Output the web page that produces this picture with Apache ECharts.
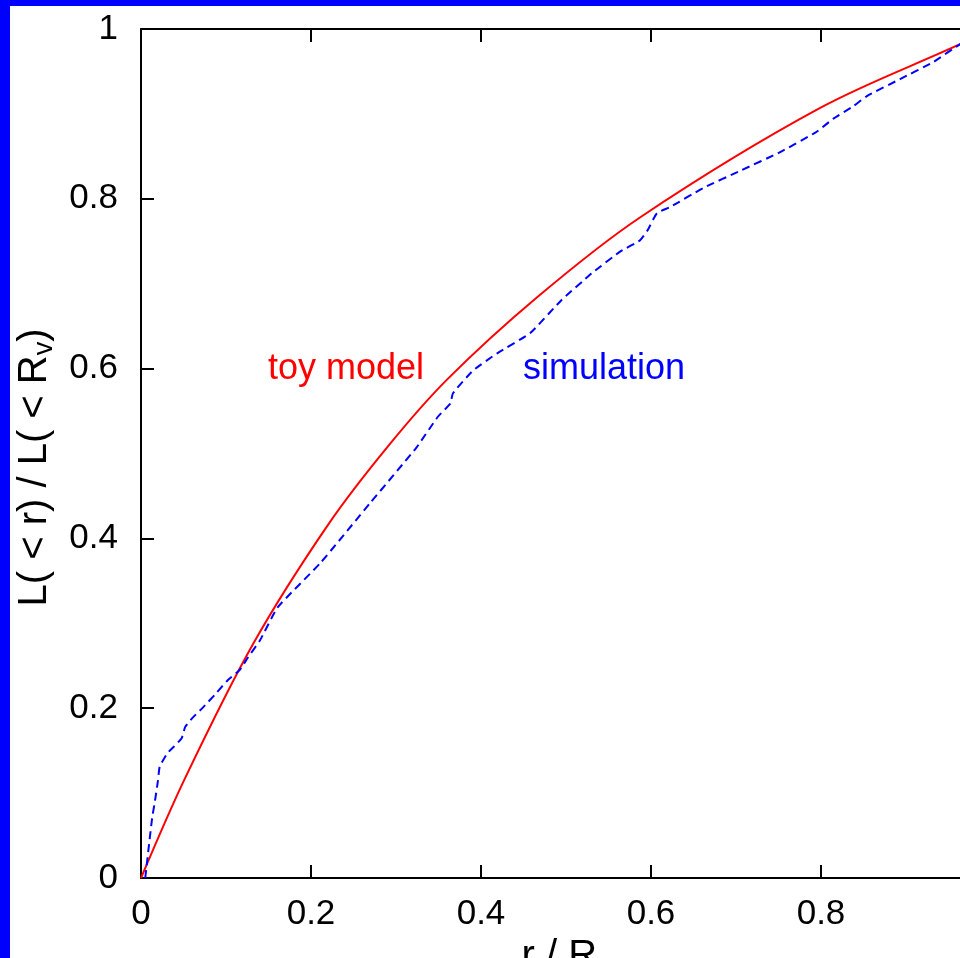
<!DOCTYPE html>
<html>
<head>
<meta charset="utf-8">
<script src="https://cdn.jsdelivr.net/npm/echarts@6/dist/echarts.min.js"></script>
<style>
  html, body { margin: 0; padding: 0; background: #0000ff; width: 960px; height: 958px; overflow: hidden; }
  #chart { position: absolute; left: 10px; top: 6px; width: 950px; height: 952px; background: #ffffff; }
</style>
</head>
<body>
<div id="chart"></div>
<script>
// Toy model curve (r/Rv, L(<r)/L(<Rv))
const toyX = [0, 0.052, 0.132, 0.220, 0.291, 0.360, 0.466, 0.587, 0.799, 0.9635, 1.0];
const toyY = [0, 0.118, 0.276, 0.416, 0.509, 0.587, 0.684, 0.778, 0.907, 0.982, 1.0];

// Simulation curve
const simX = [0.005, 0.013, 0.016, 0.020, 0.022, 0.031, 0.038, 0.048, 0.052, 0.060, 0.073, 0.087, 0.102, 0.116, 0.126, 0.140, 0.161, 0.211, 0.269, 0.324, 0.349, 0.364, 0.367, 0.391, 0.419, 0.458, 0.494, 0.530, 0.564, 0.587, 0.596, 0.607, 0.622, 0.662, 0.705, 0.752, 0.795, 0.814, 0.838, 0.854, 0.893, 0.932, 0.9635, 1.0];
const simY = [0, 0.070, 0.088, 0.115, 0.131, 0.147, 0.154, 0.165, 0.178, 0.188, 0.201, 0.216, 0.233, 0.245, 0.260, 0.280, 0.319, 0.371, 0.441, 0.507, 0.543, 0.559, 0.571, 0.598, 0.618, 0.642, 0.680, 0.712, 0.738, 0.751, 0.763, 0.783, 0.790, 0.813, 0.833, 0.855, 0.879, 0.894, 0.909, 0.921, 0.941, 0.961, 0.982, 1.0];

const seriesNames = ['toy model', 'simulation'];
const xTitle = ['r / R', 'v'];
const yTitle = ['L( < r) / L( < R', 'v', ')'];

const FONT = 'Liberation Sans, Arial, Helvetica, sans-serif';
const chart = echarts.init(document.getElementById('chart'), null, { renderer: 'canvas' });

const axisLine = { show: true, onZero: false, lineStyle: { color: '#000', width: 2 } };
const axisTick = { show: true, inside: true, length: 13, lineStyle: { color: '#000', width: 2 } };
const labelStyle = { color: '#000', fontSize: 35, fontFamily: FONT };
const richTitle = {
  a: { fontSize: 40, fontFamily: FONT, color: '#000' },
  s: { fontSize: 27, fontFamily: FONT, color: '#000', padding: [20, 0, 0, 0] }
};

const option = {
  animation: false,
  backgroundColor: '#ffffff',
  grid: { left: 131, top: 23, width: 850, height: 849, containLabel: false, outerBoundsMode: 'none' },
  xAxis: [
    {
      type: 'value', min: 0, max: 1, interval: 0.2, position: 'bottom',
      axisLine, axisTick, splitLine: { show: false },
      axisLabel: Object.assign({ margin: 19 }, labelStyle),
      name: '{a|' + xTitle[0] + '}{s|' + xTitle[1] + '}',
      nameLocation: 'middle', nameGap: 55,
      nameTextStyle: { rich: richTitle }
    },
    {
      type: 'value', min: 0, max: 1, interval: 0.2, position: 'top',
      axisLine, axisTick, splitLine: { show: false },
      axisLabel: { show: false }
    }
  ],
  yAxis: [
    {
      type: 'value', min: 0, max: 1, interval: 0.2, position: 'left',
      axisLine, axisTick, splitLine: { show: false },
      axisLabel: Object.assign({ margin: 23 }, labelStyle),
      name: '{a|' + yTitle[0] + '}{s|' + yTitle[1] + '}{a|' + yTitle[2] + '}',
      nameLocation: 'middle', nameGap: 81,
      nameTextStyle: { rich: richTitle, padding: [0, 28, 0, 0] }
    },
    {
      type: 'value', min: 0, max: 1, interval: 0.2, position: 'right',
      axisLine, axisTick, splitLine: { show: false },
      axisLabel: { show: false }
    }
  ],
  series: [
    {
      name: seriesNames[0], type: 'line', xAxisIndex: 0, yAxisIndex: 0,
      data: toyX.map((x, i) => [x, toyY[i]]),
      showSymbol: false, symbol: 'none', smooth: 0.33,
      lineStyle: { color: '#ff0000', width: 2 }
    },
    {
      name: seriesNames[1], type: 'line', xAxisIndex: 0, yAxisIndex: 0,
      data: simX.map((x, i) => [x, simY[i]]),
      showSymbol: false, symbol: 'none', smooth: 0.15,
      lineStyle: { color: '#0000ff', width: 2, type: [8, 5] }
    }
  ]
};
chart.setOption(option);

// Annotations placed in data coordinates
const toyPos = chart.convertToPixel({ gridIndex: 0 }, [0.1494, 0.6]);
const simPos = chart.convertToPixel({ gridIndex: 0 }, [0.4494, 0.6]);
chart.setOption({
  graphic: [
    { type: 'text', x: toyPos[0], y: toyPos[1], style: { text: seriesNames[0], fill: '#ff0000', fontSize: 36, fontFamily: FONT, align: 'left', verticalAlign: 'middle' } },
    { type: 'text', x: simPos[0], y: simPos[1], style: { text: seriesNames[1], fill: '#0000ff', fontSize: 36, fontFamily: FONT, align: 'left', verticalAlign: 'middle' } }
  ]
});
</script>
</body>
</html>
